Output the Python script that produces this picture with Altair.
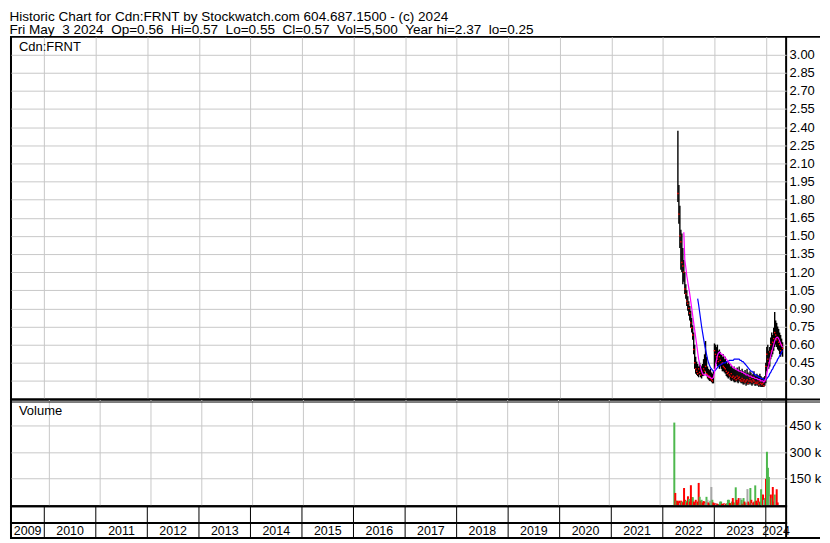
import altair as alt
import pandas as pd

FONT = "Liberation Sans"

# ---------------- text ----------------
TITLE = "Historic Chart for Cdn:FRNT by Stockwatch.com 604.687.1500 - (c) 2024"
GAP = " \u00a0"
SUBTITLE = ("Fri May" + GAP + "3 2024" + GAP + "Op=0.56" + GAP + "Hi=0.57" + GAP + "Lo=0.55"
            + GAP + "Cl=0.57" + GAP + "Vol=5,500" + GAP + "Year hi=2.37" + GAP + "lo=0.25")
SYMBOL = "Cdn:FRNT"
VOLUME_LABEL = "Volume"

# ---------------- data (weekly) ----------------
first_week = "2022-04-18"

highs = [2.37, 1.92, 1.75, 1.55, 1.52, 1.40, 1.30, 1.20, 1.10, 1.05,
         1.00, 0.96, 0.92, 0.88, 0.82, 0.76, 0.70, 0.60, 0.50, 0.46,
         0.44, 0.42, 0.45, 0.43, 0.42, 0.44, 0.48, 0.52, 0.63, 0.50,
         0.42, 0.40, 0.39, 0.40, 0.37, 0.36, 0.38, 0.61, 0.60, 0.58,
         0.60, 0.55, 0.56, 0.54, 0.52, 0.50, 0.52, 0.48, 0.50, 0.46,
         0.44, 0.46, 0.44, 0.42, 0.43, 0.41, 0.40, 0.42, 0.39, 0.40,
         0.41, 0.38, 0.42, 0.39, 0.37, 0.40, 0.38, 0.37, 0.39, 0.36,
         0.40, 0.37, 0.36, 0.38, 0.37, 0.35, 0.36, 0.38, 0.35, 0.34,
         0.36, 0.35, 0.34, 0.36, 0.34, 0.33, 0.32, 0.33, 0.34, 0.45,
         0.58, 0.60, 0.55, 0.58, 0.66, 0.70, 0.68, 0.74, 0.87, 0.80,
         0.78, 0.75, 0.73, 0.70, 0.68, 0.65, 0.62]

lows = [1.78, 1.60, 1.40, 1.22, 1.20, 1.10, 1.12, 1.02, 0.98, 0.92,
        0.88, 0.84, 0.80, 0.74, 0.70, 0.64, 0.52, 0.40, 0.36, 0.35,
        0.34, 0.33, 0.35, 0.33, 0.32, 0.34, 0.34, 0.36, 0.38, 0.34,
        0.32, 0.31, 0.30, 0.30, 0.29, 0.28, 0.28, 0.40, 0.45, 0.44,
        0.42, 0.42, 0.40, 0.42, 0.40, 0.38, 0.38, 0.37, 0.36, 0.34,
        0.33, 0.32, 0.33, 0.31, 0.30, 0.31, 0.30, 0.29, 0.29, 0.30,
        0.29, 0.28, 0.30, 0.29, 0.28, 0.28, 0.27, 0.27, 0.28, 0.26,
        0.27, 0.27, 0.27, 0.28, 0.27, 0.26, 0.27, 0.28, 0.26, 0.26,
        0.27, 0.26, 0.25, 0.26, 0.25, 0.25, 0.25, 0.25, 0.26, 0.28,
        0.38, 0.42, 0.40, 0.42, 0.48, 0.50, 0.52, 0.55, 0.58, 0.60,
        0.58, 0.56, 0.55, 0.52, 0.50, 0.52, 0.50]

closes = [1.85, 1.68, 1.50, 1.45, 1.28, 1.25, 1.20, 1.06, 1.02, 0.96,
          0.94, 0.90, 0.86, 0.78, 0.74, 0.68, 0.56, 0.45, 0.40, 0.38,
          0.36, 0.40, 0.37, 0.35, 0.38, 0.36, 0.40, 0.38, 0.42, 0.36,
          0.35, 0.33, 0.34, 0.32, 0.31, 0.30, 0.33, 0.55, 0.52, 0.50,
          0.48, 0.46, 0.50, 0.47, 0.44, 0.45, 0.42, 0.41, 0.40, 0.38,
          0.36, 0.37, 0.35, 0.34, 0.36, 0.33, 0.34, 0.32, 0.33, 0.31,
          0.34, 0.32, 0.33, 0.31, 0.30, 0.32, 0.30, 0.31, 0.29, 0.30,
          0.31, 0.28, 0.30, 0.32, 0.30, 0.29, 0.31, 0.30, 0.28, 0.29,
          0.28, 0.29, 0.27, 0.30, 0.28, 0.27, 0.28, 0.26, 0.30, 0.42,
          0.52, 0.48, 0.45, 0.54, 0.60, 0.55, 0.62, 0.65, 0.70, 0.68,
          0.64, 0.66, 0.62, 0.60, 0.55, 0.60, 0.57]

ma_short = [None, None, None, None, None, None, 1.53, 1.30, 1.24, 1.17,
            1.12, 1.07, 1.02, 0.96, 0.90, 0.84, 0.78, 0.72, 0.66, 0.60,
            0.54, 0.48, 0.44, 0.41, 0.38, 0.36, 0.35, 0.35, 0.35, 0.35,
            0.34, 0.34, 0.33, 0.33, 0.32, 0.32, 0.33, 0.37, 0.42, 0.47,
            0.51, 0.53, 0.54, 0.53, 0.52, 0.52, 0.51, 0.50, 0.49, 0.48,
            0.47, 0.46, 0.45, 0.44, 0.43, 0.42, 0.41, 0.41, 0.40, 0.40,
            0.39, 0.39, 0.38, 0.38, 0.38, 0.37, 0.37, 0.36, 0.36, 0.35,
            0.35, 0.35, 0.34, 0.34, 0.34, 0.33, 0.33, 0.33, 0.32, 0.32,
            0.32, 0.31, 0.31, 0.31, 0.30, 0.30, 0.30, 0.29, 0.30, 0.32,
            0.36, 0.40, 0.43, 0.47, 0.51, 0.54, 0.57, 0.60, 0.63, 0.65,
            0.66, 0.66, 0.65, 0.63, 0.61, 0.59, 0.58]

ma_long = [None, None, None, None, None, None, None, None, None, None,
           None, None, None, None, None, None, None, None, None, None,
           0.98, 0.93, 0.87, 0.81, 0.75, 0.70, 0.65, 0.60, 0.56, 0.52,
           0.48, 0.45, 0.43, 0.41, 0.40, 0.39, 0.38, 0.38, 0.39, 0.40,
           0.41, 0.42, 0.43, 0.43, 0.44, 0.44, 0.45, 0.45, 0.45, 0.46,
           0.46, 0.46, 0.47, 0.47, 0.47, 0.47, 0.47, 0.48, 0.48, 0.48,
           0.48, 0.48, 0.48, 0.47, 0.47, 0.46, 0.46, 0.45, 0.44, 0.43,
           0.42, 0.41, 0.40, 0.39, 0.38, 0.38, 0.37, 0.36, 0.35, 0.35,
           0.34, 0.34, 0.33, 0.33, 0.32, 0.32, 0.32, 0.31, 0.31, 0.31,
           0.32, 0.33, 0.34, 0.36, 0.37, 0.39, 0.40, 0.42, 0.43, 0.45,
           0.46, 0.48, 0.49, 0.51, 0.52, 0.54, 0.55]

volumes = [469000, 69000, 25000, 25000, 18000, 25000, 12000, 25000, 20000, 15000,
           97000, 30000, 25000, 15000, 50000, 35000, 20000, 113000, 45000, 45000,
           20000, 15000, 30000, 12000, 20000, 126000, 47000, 25000, 30000, 15000,
           23000, 20000, 10000, 47000, 30000, 15000, 10000, 25000, 103000, 30000,
           15000, 8000, 12000, 10000, 8000, 6000, 5000, 20000, 20000, 8000,
           5000, 10000, 6000, 8000, 10000, 30000, 30000, 12000, 8000, 20000,
           40000, 15000, 10000, 101000, 30000, 15000, 40000, 10000, 40000, 30000,
           8000, 40000, 20000, 10000, 15000, 91000, 20000, 10000, 97000, 30000,
           12000, 15000, 20000, 112000, 25000, 10000, 40000, 15000, 20000, 90000,
           45000, 60000, 30000, 40000, 149000, 303000, 212000, 160000, 50000, 60000,
           40000, 103000, 20000, 60000, 30000, 90000, 15000]

# G = up week (green), R = down week (red), N = unchanged (grey)
vol_dirs = list("GRGRRRNRGR" "RRGRRGRRRG" "RRRGRRGRGR" "RRNGNRRGNG" "RRRNRRGGGR"
                "RRNRGGGRRG" "RRGGRRRGNG" "RGRRGNRRGR" "NRRGRRRGRG" "GRNGRGGGNR" "GRRGNRR")

years = list(range(2009, 2025))
price_ticks = [0.30, 0.45, 0.60, 0.75, 0.90, 1.05, 1.20, 1.35, 1.50, 1.65,
               1.80, 1.95, 2.10, 2.25, 2.40, 2.55, 2.70, 2.85, 3.00]
volume_ticks = [150000, 300000, 450000]

# ---------------- layout ----------------
W = 778
H_PRICE = 364
H_VOL = 107
H_BLANK = 17
H_LABEL = 15
EDGE_X = W + 34
GRID = "#c8c8c8"
dir_names = {"G": "up", "R": "down", "N": "flat"}

dates = pd.date_range(first_week, periods=len(closes), freq="7D").strftime("%Y-%m-%d")
df = pd.DataFrame({
    "date": dates, "high": highs, "low": lows, "close": closes,
    "ma_short": ma_short, "ma_long": ma_long,
    "volume": volumes, "dir": [dir_names[d] for d in vol_dirs],
})

start = pd.Timestamp("2009-05-10")
end = pd.Timestamp("2024-05-24")
year_rows = []
for y in years:
    a = max(pd.Timestamp(f"{y}-01-01"), start)
    b = min(pd.Timestamp(f"{y + 1}-01-01"), end)
    year_rows.append({"label": str(y), "center": (a + (b - a) / 2).strftime("%Y-%m-%dT%H:%M:%S"),
                      "boundary": f"{y}-01-01"})
ydf = pd.DataFrame(year_rows)
bdf = ydf[ydf["label"] != str(years[0])].reset_index(drop=True)

xscale = alt.Scale(type="utc", domain=[
    alt.DateTime(year=2009, month=5, date=10, utc=True),
    alt.DateTime(year=2024, month=5, date=24, utc=True)])
grid_axis = alt.Axis(values=[alt.DateTime(year=y, month=1, date=1, utc=True) for y in years[1:]],
                     grid=True, gridColor=GRID, labels=False, ticks=False, domain=False, title=None)
X = alt.X("date:T", scale=xscale, axis=grid_axis)

one = pd.DataFrame({"k": [0]})


def hline(yv, sw, x0=W):
    """Black horizontal border running across the label margin."""
    return alt.Chart(one).mark_rule(color="black", strokeWidth=sw).encode(
        x=alt.value(x0), x2=alt.value(EDGE_X), y=alt.value(yv))


price_scale = alt.Scale(domain=[0.146, 3.146], zero=False, nice=False)
price_axis = alt.Axis(orient="right", values=price_ticks, tickCount=len(price_ticks), format=".2f",
                      grid=True, gridColor=GRID, ticks=False, domain=False, labelPadding=3,
                      title=None, labelOverlap=False, labelFlush=False)


def PY(field):
    return alt.Y(field, scale=price_scale, axis=price_axis)


base = alt.Chart(df)
hl = base.mark_rule(color="black", strokeWidth=1.4).encode(x=X, y=PY("low:Q"), y2="high:Q")
cl = base.mark_square(color="#ff0000", size=2, opacity=1).encode(x=X, y=PY("close:Q"))
m1 = base.mark_line(color="#ff00ff", strokeWidth=1.2).encode(x=X, y=PY("ma_short:Q"))
m2 = base.mark_line(color="#0000ff", strokeWidth=1.2).encode(x=X, y=PY("ma_long:Q"))
sym = alt.Chart(pd.DataFrame({"t": [SYMBOL]})).mark_text(
    align="left", baseline="alphabetic", font=FONT, fontSize=13, color="black").encode(
    x=alt.value(8), y=alt.value(14), text="t:N")
price = alt.layer(hl, cl, m2, m1, sym, hline(0, 2), hline(H_PRICE, 2)).properties(
    width=W, height=H_PRICE)

vol_scale = alt.Scale(domain=[-6000, 600000], zero=False, nice=False)
vol_axis = alt.Axis(orient="right", values=volume_ticks, labelExpr="datum.value / 1000 + ' k'",
                    grid=True, gridColor=GRID, ticks=False, domain=False, labelPadding=3, title=None,
                    labelOverlap=False, labelFlush=False)
vb = base.mark_bar(size=2).encode(
    x=X,
    y=alt.Y("volume:Q", scale=vol_scale, axis=vol_axis, stack=None),
    color=alt.Color("dir:N", scale=alt.Scale(domain=["up", "down", "flat"],
                                             range=["#4db84d", "#ff0000", "#a8a8a8"]), legend=None))
vt = alt.Chart(pd.DataFrame({"t": [VOLUME_LABEL]})).mark_text(
    align="left", baseline="alphabetic", font=FONT, fontSize=13, color="black").encode(
    x=alt.value(8), y=alt.value(16), text="t:N")
volume = alt.layer(vb, vt, hline(2.5, 1, 0)).properties(width=W, height=H_VOL)

sep_blank = alt.Chart(bdf).mark_rule(color="black", strokeWidth=1).encode(
    x=alt.X("boundary:T", scale=xscale, axis=None), y=alt.value(0), y2=alt.value(H_BLANK))
blank = sep_blank.properties(width=W, height=H_BLANK)

sep_label = alt.Chart(bdf).mark_rule(color="black", strokeWidth=1).encode(
    x=alt.X("boundary:T", scale=xscale, axis=None), y=alt.value(0), y2=alt.value(H_LABEL))
lab = alt.Chart(ydf).mark_text(font=FONT, fontSize=12.5, color="black", baseline="middle",
                               align="center").encode(
    x=alt.X("center:T", scale=xscale, axis=None), y=alt.value(H_LABEL / 2 + 0.5), text="label:N")
labels = alt.layer(sep_label, lab, hline(H_LABEL, 2)).properties(width=W, height=H_LABEL)

chart = alt.vconcat(price, volume, blank, labels, spacing=0, bounds="flush").properties(
    title=alt.TitleParams(TITLE, subtitle=SUBTITLE, anchor="start", font=FONT, fontSize=13.6,
                          fontWeight="normal", color="black", subtitleFont=FONT,
                          subtitleFontSize=13.6, subtitleColor="black", subtitlePadding=0,
                          offset=-2, dx=0),
    padding={"left": 1, "top": 0, "right": 0, "bottom": 0},
    background="white",
).configure_view(stroke="black", strokeWidth=2).configure_axis(
    labelFont=FONT, labelFontSize=13, labelColor="black")

chart.save("out.html", embed_options={"renderer": "svg", "actions": False})
